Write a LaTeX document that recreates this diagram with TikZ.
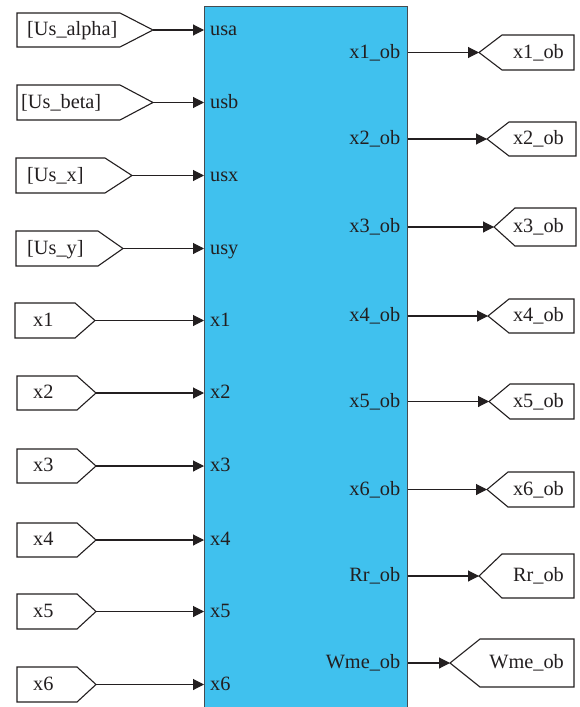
\documentclass[tikz,border=0pt]{standalone}
\usepackage{fontspec}
\setmainfont{Liberation Serif}
\usetikzlibrary{arrows.meta}
\definecolor{blkfill}{RGB}{64,193,238}
\definecolor{ink}{RGB}{35,31,32}
\definecolor{blkedge}{RGB}{70,75,80}
\tikzset{
  tagline/.style={draw=ink, line width=1.1pt, fill=white},
  conn/.style={draw=ink, line width=1.1pt, -{Triangle[length=11pt,width=11pt]}},
  lbl/.style={font=\fontsize{20.3}{22}\selectfont, text=ink, inner sep=0pt},
}
% name, xl, xr, xtip, ytop, ybot, textx, text
\newcommand\LeftTag[8]{%
  \draw[tagline] (#2,#5) -- (#3,#5) -- (#4,{(#5+#6)/2}) -- (#3,#6) -- (#2,#6) -- cycle;
  \coordinate (#1) at (#4,{(#5+#6)/2});
  \node[lbl, anchor=base west] (#1txt) at (#7,{(#5+#6)/2+5.5}) {#8};
}
% name, xtip, xl, xr, ytop, ybot, text
\newcommand\RightTag[7]{%
  \draw[tagline] (#4,#5) -- (#3,#5) -- (#2,{(#5+#6)/2}) -- (#3,#6) -- (#4,#6) -- cycle;
  \coordinate (#1) at (#2,{(#5+#6)/2});
  \node[lbl, anchor=base east] (#1txt) at (564,{(#5+#6)/2+5.5}) {#7};
}
\begin{document}
\begin{tikzpicture}[x=1pt,y=-1pt]
\useasboundingbox (0,0) rectangle (579,707);
\clip (0,0) rectangle (579,707);
\node[draw=blkedge, line width=1.4pt, fill=blkfill, anchor=north west,
      minimum width=203pt, minimum height=720pt, inner sep=0pt] (blk) at (204,6) {};

% left tags
\LeftTag{ta}{17}{120}{153}{13}{47}{27}{[Us\_alpha]}
\LeftTag{tb}{17}{120}{153}{85}{120}{21}{[Us\_beta]}
\LeftTag{tc}{16}{105}{132}{158}{193}{27}{[Us\_x]}
\LeftTag{td}{16}{98}{123}{231}{266}{27}{[Us\_y]}
\LeftTag{te}{15}{75}{95}{303}{338}{33}{x1}
\LeftTag{tf}{17}{77}{96}{376}{410}{33}{x2}
\LeftTag{tg}{17}{77}{96}{449}{483}{33}{x3}
\LeftTag{th}{17}{77}{96}{523}{557}{33}{x4}
\LeftTag{ti}{17}{77}{96}{594}{629}{33}{x5}
\LeftTag{tj}{17}{77}{96}{667}{702}{33}{x6}

% input ports
\foreach \n/\t in {ta/usa,tb/usb,tc/usx,td/usy,te/x1,tf/x2,tg/x3,th/x4,ti/x5,tj/x6}{
  \coordinate (p\n) at (blk.west |- \n);
  \node[lbl, anchor=base west] (l\n) at ([shift={(6,5.5)}]p\n) {\t};
  \draw[conn] (\n) -- (p\n);
}

% right tags
\RightTag{oa}{479}{502}{574}{35}{70}{x1\_ob}
\RightTag{ob}{487}{509}{576}{122}{156}{x2\_ob}
\RightTag{oc}{494}{515}{576}{208}{246}{x3\_ob}
\RightTag{od}{488}{509}{574}{299}{333}{x4\_ob}
\RightTag{oe}{489}{510}{574}{384}{419}{x5\_ob}
\RightTag{of}{487}{508}{574}{472}{507}{x6\_ob}
\RightTag{og}{479}{502}{574}{554}{598}{Rr\_ob}
\RightTag{oh}{450}{480}{574}{639}{687}{Wme\_ob}

% output ports
\foreach \n/\t in {oa/x1\_ob,ob/x2\_ob,oc/x3\_ob,od/x4\_ob,oe/x5\_ob,of/x6\_ob,og/Rr\_ob,oh/Wme\_ob}{
  \coordinate (q\n) at (blk.east |- \n);
  \node[lbl, anchor=base east] (m\n) at ([shift={(-8,5.5)}]q\n) {\t};
  \draw[conn] (q\n) -- (\n);
}
\end{tikzpicture}
\end{document}
